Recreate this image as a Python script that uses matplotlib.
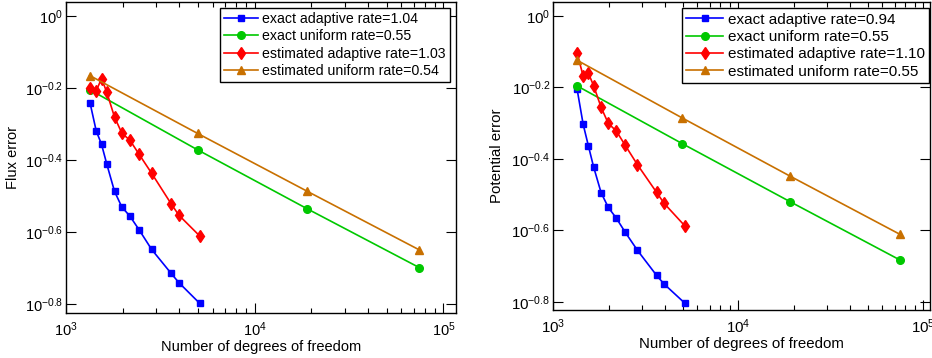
import numpy as np
import matplotlib
matplotlib.use("Agg")
import matplotlib.pyplot as plt
from matplotlib.ticker import FixedLocator, NullLocator, FuncFormatter, LogLocator

plt.rcParams['font.family'] = ['Liberation Sans', 'DejaVu Sans']
plt.rcParams['mathtext.fontset'] = 'custom'
plt.rcParams['mathtext.rm'] = 'Liberation Sans'
plt.rcParams['mathtext.it'] = 'Liberation Sans:italic'
plt.rcParams['mathtext.bf'] = 'Liberation Sans:bold'

# degrees of freedom
dof_adaptive = [1345, 1450, 1548, 1650, 1813, 1982, 2190, 2447, 2850, 3617, 3973, 5117]
dof_uniform = [1340, 4990, 19030, 74400]

# flux error (left panel)
flux_exact_adaptive = [0.574, 0.480, 0.440, 0.388, 0.326, 0.295, 0.278, 0.255, 0.225, 0.193, 0.182, 0.1595]
flux_exact_uniform = [0.624, 0.425, 0.2915, 0.2004]
flux_est_adaptive = [0.632, 0.619, 0.670, 0.614, 0.524, 0.473, 0.4515, 0.413, 0.366, 0.301, 0.280, 0.2453]
flux_est_uniform = [0.683, 0.472, 0.326, 0.2244]
flux_labels = ['exact adaptive rate=1.04', 'exact uniform rate=0.55',
               'estimated adaptive rate=1.03', 'estimated uniform rate=0.54']

# potential error (right panel)
pot_exact_adaptive = [0.622, 0.4966, 0.432, 0.378, 0.3198, 0.291, 0.2716, 0.248, 0.2207, 0.1878, 0.1776, 0.1574]
pot_exact_uniform = [0.637, 0.4385, 0.302, 0.2077]
pot_est_adaptive = [0.785, 0.678, 0.690, 0.638, 0.554, 0.500, 0.476, 0.434, 0.383, 0.3205, 0.2986, 0.259]
pot_est_uniform = [0.7515, 0.5173, 0.356, 0.245]
pot_labels = ['exact adaptive rate=0.94', 'exact uniform rate=0.55',
              'estimated adaptive rate=1.10', 'estimated uniform rate=0.55']

ytick_exps = [-0.8, -0.6, -0.4, -0.2, 0]

c_blue = '#0000ff'
c_green = '#00c800'
c_red = '#ff0000'
c_orange = '#c87000'

fig = plt.figure(figsize=(9.32, 3.58), dpi=100)
ax1 = fig.add_axes([0.0705, 0.125, 0.4188, 0.870])
ax2 = fig.add_axes([0.5937, 0.134, 0.4042, 0.861])


def draw(ax, ea, eu, sa, su, labels, xmax_exp, ymin_exp, fs, leg_fs):
    ax.loglog(dof_adaptive, ea, '-s', color=c_blue, mec=c_blue, mfc=c_blue, ms=5, lw=1.2, label=labels[0])
    ax.loglog(dof_uniform, eu, '-o', color=c_green, mec=c_green, mfc=c_green, ms=5.5, lw=1.2, label=labels[1])
    ax.loglog(dof_adaptive, sa, '-d', color=c_red, mec=c_red, mfc=c_red, ms=6.5, lw=1.2, label=labels[2])
    ax.loglog(dof_uniform, su, '-^', color=c_orange, mec=c_orange, mfc=c_orange, ms=6, lw=1.2, label=labels[3])
    ax.set_xlim(1e3, 10 ** xmax_exp)
    ax.set_ylim(10 ** ymin_exp, 10 ** 0.039)
    ax.yaxis.set_major_locator(FixedLocator([10 ** e for e in ytick_exps]))
    ax.yaxis.set_minor_locator(NullLocator())
    ax.yaxis.set_major_formatter(FuncFormatter(
        lambda v, p: r'$10^{%s}$' % ('0' if abs(np.log10(v)) < 1e-9 else '%.1f' % np.log10(v))))
    ax.xaxis.set_major_locator(LogLocator(base=10))
    ax.xaxis.set_minor_locator(LogLocator(base=10, subs=np.arange(2, 10)))
    ax.tick_params(which='both', direction='in', top=True, right=True, labelsize=fs, width=0.8)
    ax.tick_params(which='major', length=7)
    ax.tick_params(axis='x', which='major', pad=5)
    ax.tick_params(axis='y', which='major', pad=2)
    ax.tick_params(which='minor', length=3.5)
    for s in ax.spines.values():
        s.set_linewidth(1.0)
    ax.set_xlabel('Number of degrees of freedom', fontsize=fs, labelpad=1)
    leg = ax.legend(loc='upper right', bbox_to_anchor=(0.985, 0.98), borderaxespad=0,
                    fontsize=leg_fs, fancybox=False, framealpha=1, edgecolor='black',
                    handlelength=2.4, handletextpad=0.3, labelspacing=0.22, borderpad=0.3)
    leg.get_frame().set_linewidth(1.0)


draw(ax1, flux_exact_adaptive, flux_exact_uniform, flux_est_adaptive, flux_est_uniform,
     flux_labels, 5.067, -0.825, 10.5, 10.2)
ax1.set_ylabel('Flux error', fontsize=10.5)
ax1.yaxis.set_label_coords(-0.117, 0.5)

draw(ax2, pot_exact_adaptive, pot_exact_uniform, pot_est_adaptive, pot_est_uniform,
     pot_labels, 5.036, -0.823, 10.8, 11)
ax2.set_ylabel('Potential error', fontsize=10.8)
ax2.yaxis.set_label_coords(-0.132, 0.5)
ax2.get_legend().set_bbox_to_anchor((0.998, 0.98))

fig.savefig('out.png', dpi=100)
